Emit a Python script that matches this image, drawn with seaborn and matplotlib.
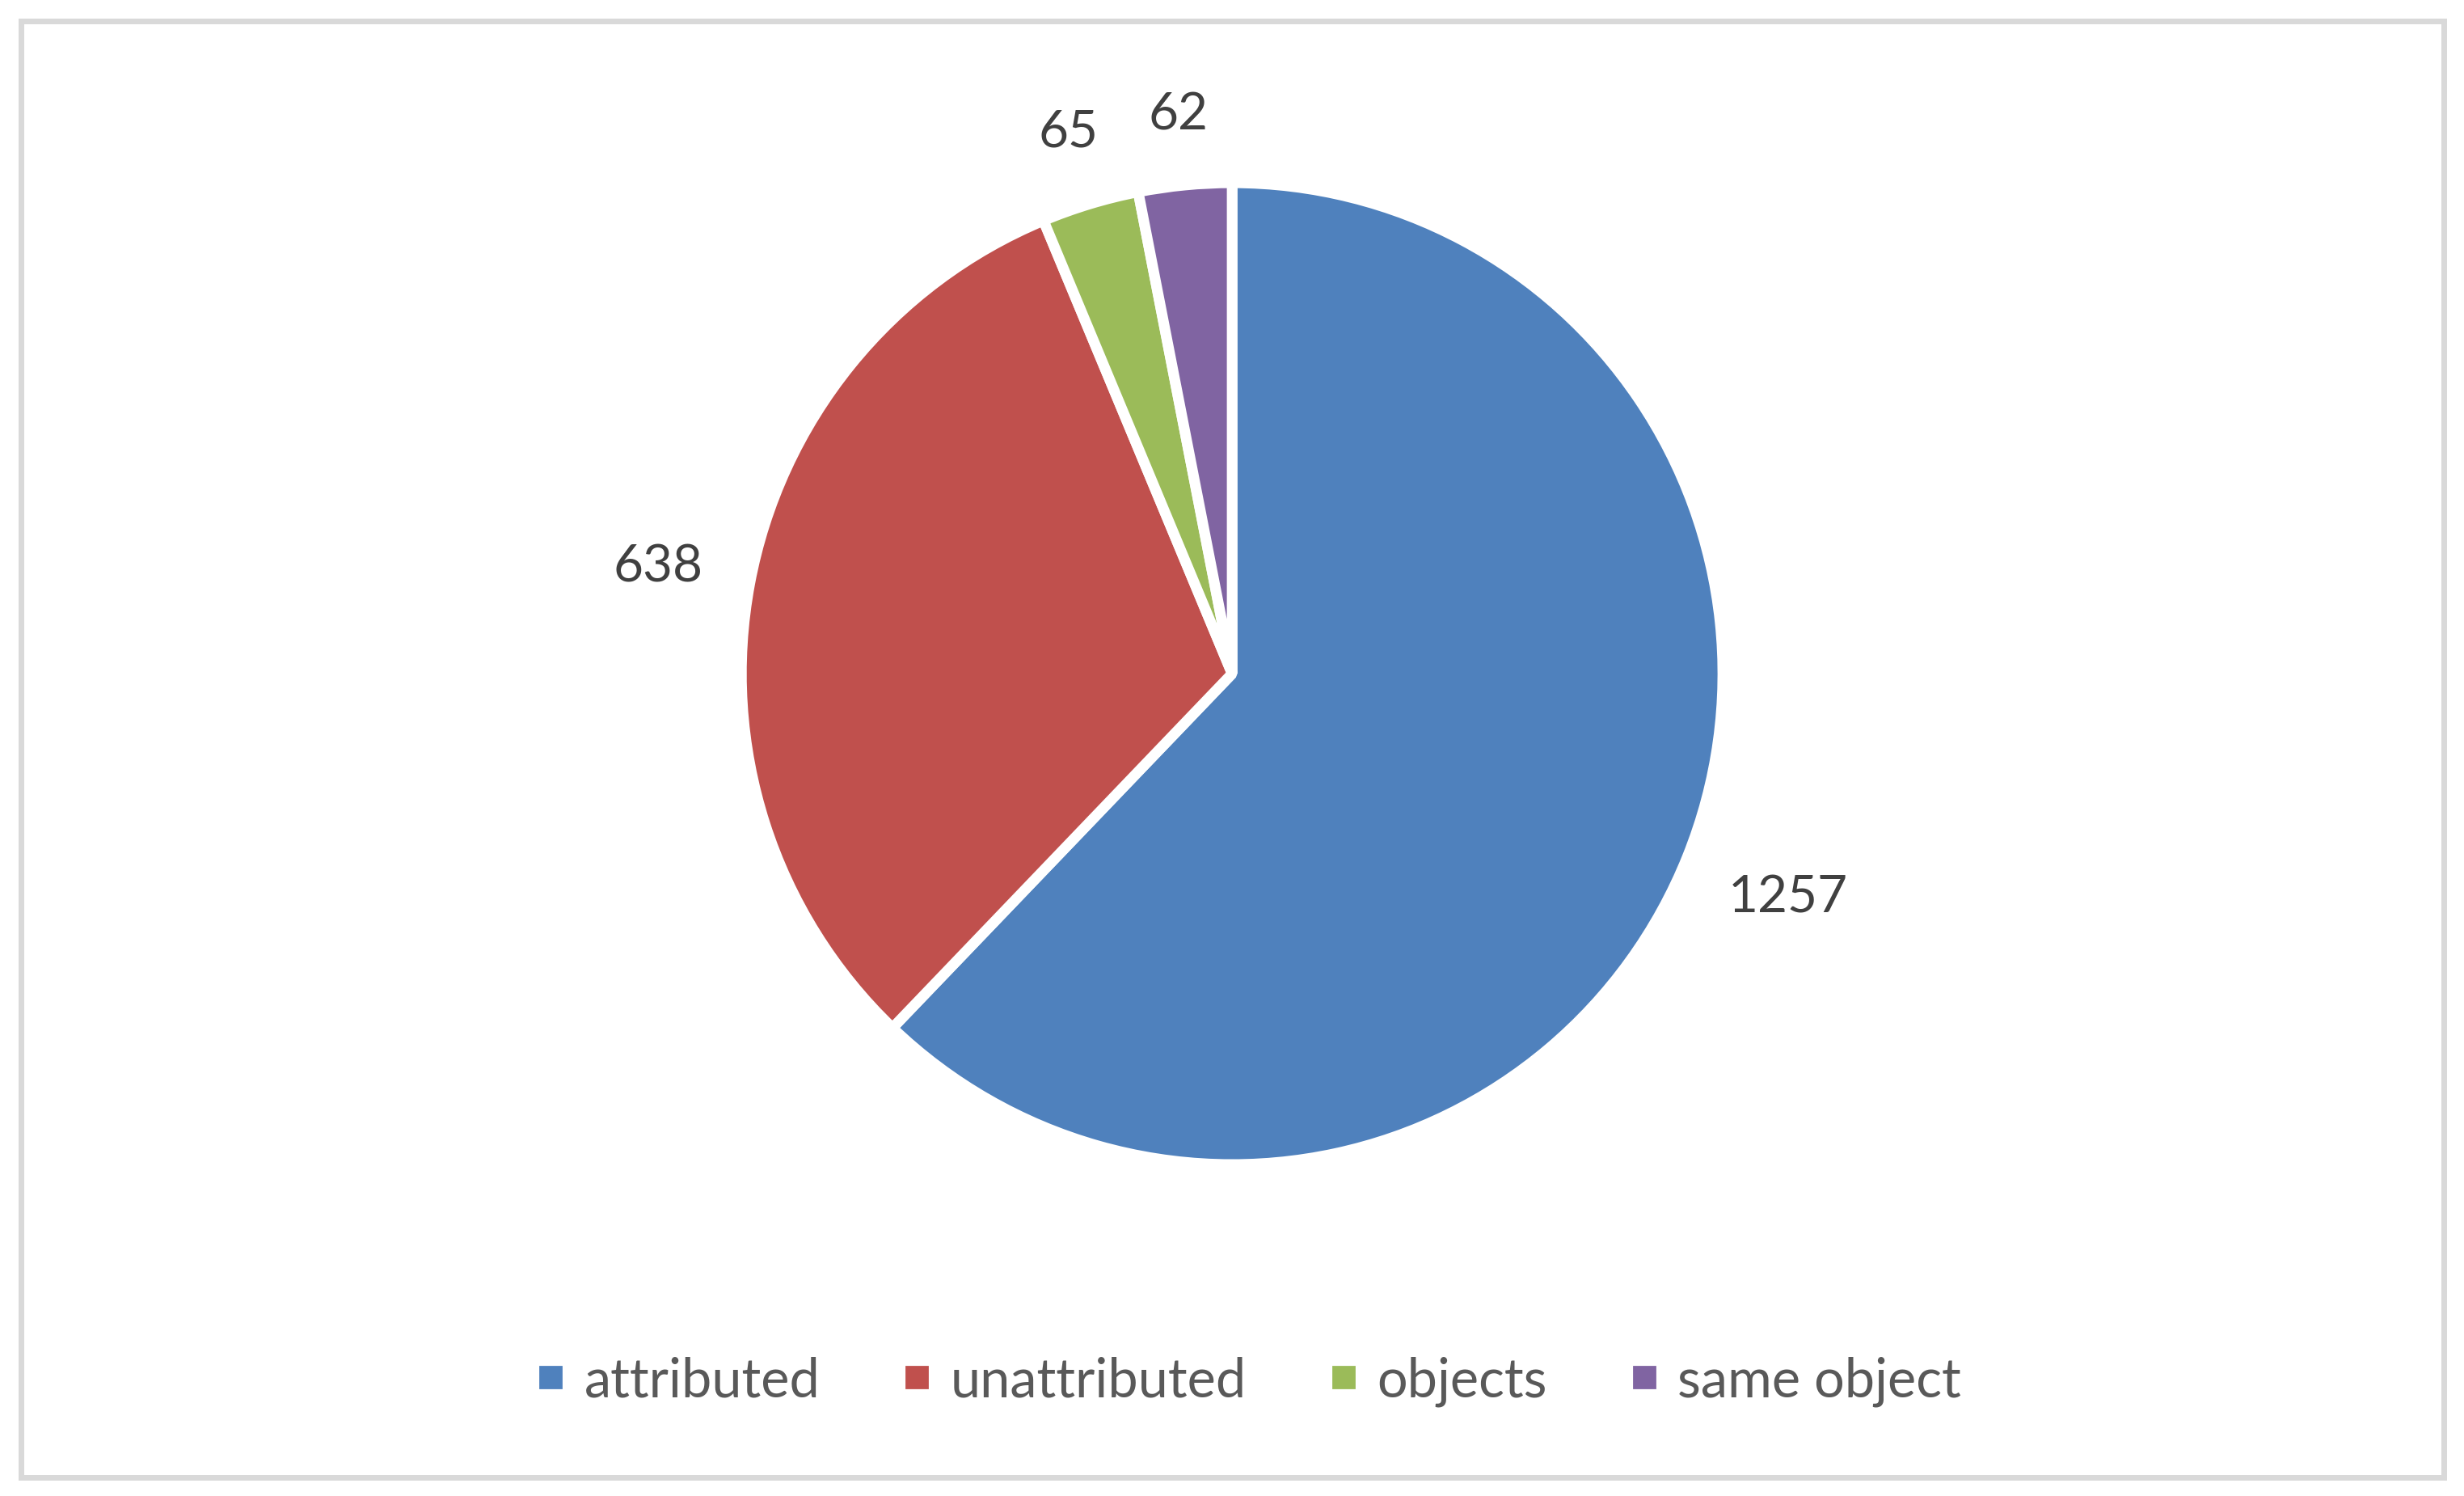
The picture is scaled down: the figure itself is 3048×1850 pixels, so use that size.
import matplotlib
matplotlib.use("Agg")
import matplotlib.pyplot as plt
from matplotlib.lines import Line2D
from matplotlib.patches import Rectangle
import numpy as np
import seaborn as sns

categories = ["attributed", "unattributed", "objects", "same object"]
counts = [1257, 638, 65, 62]
colors = ["#4F81BD", "#C0504D", "#9BBB59", "#8064A2"]

sns.set_theme(style="white")
plt.rcParams["font.family"] = ["Lato", "DejaVu Sans"]
palette = sns.color_palette(colors)

fig = plt.figure(figsize=(15.24, 9.2549), dpi=200)
fig.patch.set_facecolor("white")

# pie drawn with radius 1 inside +/-1.25 limits; axes sized so radius ~607 px
ax = fig.add_axes([0.2511, 0.1395, 0.4979, 0.8198])
total = sum(counts)
wedges, texts, autotexts = ax.pie(
    counts,
    colors=palette,
    startangle=90,
    counterclock=False,
    autopct=lambda p: f"{round(p * total / 100)}",
    pctdistance=1.2,
    wedgeprops=dict(edgecolor="white", linewidth=4.7, joinstyle="bevel"),
    textprops=dict(color="#404040", fontsize=23),
)
ax.set_xlim(-1.25, 1.25)
ax.set_ylim(-1.25, 1.25)
ax.set_aspect("equal")

# push each label out so its box sits a fixed gap outside the rim (Excel-like)
fig.canvas.draw()
renderer = fig.canvas.get_renderer()
ppu = ax.transData.transform((1, 0))[0] - ax.transData.transform((0, 0))[0]
gap = 55
for w, t in zip(wedges, autotexts):
    ang = np.deg2rad((w.theta1 + w.theta2) / 2)
    bb = t.get_window_extent(renderer)
    ext = abs(np.cos(ang)) * bb.width / 2 + abs(np.sin(ang)) * bb.height / 2
    d = 1 + (gap + ext) / ppu
    t.set_position((d * np.cos(ang), d * np.sin(ang)))

handles = [
    Line2D([0], [0], marker="s", linestyle="none", markersize=9.7,
           markerfacecolor=c, markeredgecolor=c)
    for c in colors
]
fig.legend(
    handles, categories,
    loc="center", bbox_to_anchor=(0.5075, 0.077), ncol=4, frameon=False,
    fontsize=24, labelcolor="#595959",
    handlelength=0.4, handletextpad=0.42, columnspacing=1.6,
)

# chart-area border
fig.add_artist(Rectangle((0.00837, 0.01216), 0.98359, 0.97352,
                         transform=fig.transFigure, fill=False,
                         edgecolor="#D9D9D9", linewidth=2.52))

plt.savefig("out.png", dpi=200, facecolor="white")
